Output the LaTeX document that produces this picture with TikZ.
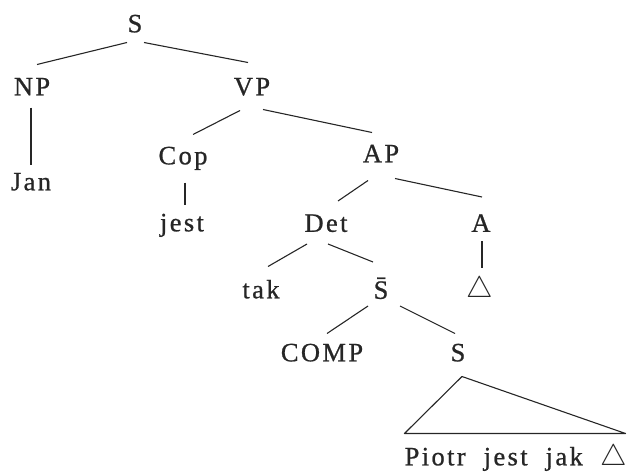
\documentclass[tikz,border=0pt]{standalone}
\usepackage{fontspec}
\usepackage{graphicx}
\setmainfont{Liberation Serif}[LetterSpace=9, FakeBold=0.8]
\usetikzlibrary{positioning}

\newcommand{\gap}{\scalebox{1.2}{$\triangle$}}

\begin{document}
\begin{tikzpicture}[x=1pt, y=-1pt]

	\tikzset{lbl/.style={inner sep=0pt, text height=17.6pt, text depth=0pt,
		font=\fontsize{26.5}{30}\selectfont, text=black!85}};
	\tikzset{branch/.style={line width=1.1pt, black!85}};

	\useasboundingbox (0,0) rectangle (628,474);

	% labels of the tree
	\foreach \x/\y/\name/\txt in {135/23.5/s/S, 32/86.5/np/NP, 252/86.5/vp/VP,
		31/181.5/jan/Jan, 183/155.5/cop/Cop, 381/153.5/ap/AP,
		182/222.5/jest/jest, 326/223/det/Det, 481/223/a/A,
		261/289.5/tak/tak, 381/290/sbar/\=S, 480/288.5/tri/\gap,
		322/352.5/comp/COMP, 458/352.5/s2/S,
		516/456.5/piotr/\spaceskip=18pt\relax Piotr jest jak \gap} {
		\node[lbl] (\name) at (\x,\y) {\txt};
	}

	% branches
	\foreach \p/\px/\py/\c/\cx/\cy in {s/-8/10/np/5/-13, s/9/10/vp/-4/-15,
		np/-1/12/jan/0/-8, vp/-12/15/cop/10/-12, vp/11/14/ap/-9/-12,
		cop/2/18/jest/3/-9, ap/-13/18/det/12/-13, ap/14/16/a/1/-17,
		det/-19/12/tak/7/-14, det/2/12/sbar/-8/-19, a/1/9/tri/2/-12,
		sbar/-13/7/comp/5/-10, sbar/19/7/s2/-3/-10} {
		\draw[branch] ([shift={(\px,\py)}]\p.south) -- ([shift={(\cx,\cy)}]\c.north);
	}

	\draw[branch, line join=round] ([shift={(4,15)}]s2.south) -- ([shift={(0,-14)}]piotr.north west)
		-- ([shift={(-2,-14)}]piotr.north east) -- cycle;

\end{tikzpicture}
\end{document}
